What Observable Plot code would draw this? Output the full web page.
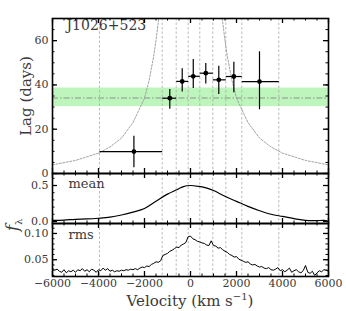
<!DOCTYPE html>
<html>
<head>
<meta charset="utf-8">
<script src="https://cdn.jsdelivr.net/npm/d3@7"></script>
<script src="https://cdn.jsdelivr.net/npm/@observablehq/plot@0.6"></script>
<style>
  body { margin: 0; background: #fff; }
  #wrap { position: relative; width: 346px; height: 311px; font-family: 'DejaVu Serif', serif; color: #3a3a3a; }
  #wrap svg { position: absolute; left: 0; overflow: visible; }
  .lab { position: absolute; white-space: nowrap; font-family: 'DejaVu Serif', serif; color: #3a3a3a; }
</style>
</head>
<body>
<div id="wrap"></div>
<script>
// ---------- data ----------
const xDomain = [-6000, 6000];
const xMajorTicks = [-6000, -4000, -2000, 0, 2000, 4000, 6000];
const binEdges = [-3957, -1230, -622, -100, 404, 970, 1535, 2230, 3839];
const lagVel = [-2460, -900, -360, 120, 665, 1230, 1885, 3000];
const lagValue = [9.9, 34.0, 41.6, 43.9, 45.3, 42.3, 43.8, 41.5];
const lagLow = [2.8, 29.2, 37.0, 38.6, 40.7, 35.9, 36.7, 29.0];
const lagHigh = [17.1, 38.2, 47.5, 51.7, 49.9, 48.7, 50.5, 55.2];
const binLeft = [-3957, -1230, -622, -100, 404, 970, 1535, 2230];
const binRight = [-1230, -622, -100, 404, 970, 1535, 2230, 3839];
const meanLag = 34.1, bandLo = 30.2, bandHi = 38.6;
const lagTicks = [0, 20, 40, 60];
const envVelLeft = [-6000, -5000, -4000, -3500, -3000, -2500, -2000, -1800, -1600, -1500, -1380];
const envVelRight = [1380, 1500, 1600, 1800, 2000, 2500, 3000, 3500, 4000, 5000, 6000];
const envLagLeft = [3.9, 5.9, 9.2, 12.0, 16.0, 23.0, 34.0, 42.0, 53.0, 60.0, 70.0];
const envLagRight = [70.0, 60.0, 53.0, 42.0, 34.0, 23.0, 16.0, 12.0, 9.2, 5.9, 3.9];

const meanVel = [-6000,-5500,-5000,-4500,-4000,-3500,-3000,-2500,-2000,-1500,-1000,-600,-450,-300,-150,0,150,300,500,750,1000,1500,2000,2500,3000,3500,4000,4500,5000,5500,5800,6000];
const meanFlux = [0.015,0.02,0.03,0.035,0.045,0.06,0.09,0.13,0.18,0.28,0.38,0.44,0.465,0.485,0.497,0.5,0.497,0.49,0.48,0.46,0.43,0.35,0.28,0.21,0.15,0.10,0.07,0.04,0.015,0.012,0.015,0.0];
const meanTicks = [0.0, 0.5];

const rmsVel = [-6000,-5900,-5800,-5700,-5600,-5500,-5400,-5300,-5200,-5100,-5000,-4900,-4800,-4700,-4600,-4500,-4400,-4300,-4200,-4100,-4000,-3900,-3800,-3700,-3600,-3500,-3400,-3300,-3200,-3100,-3000,-2900,-2800,-2700,-2600,-2500,-2400,-2300,-2200,-2100,-2000,-1900,-1800,-1700,-1600,-1500,-1400,-1300,-1200,-1100,-1000,-900,-800,-700,-600,-500,-400,-300,-200,-100,0,100,200,300,400,500,600,700,800,900,1000,1100,1200,1300,1400,1500,1600,1700,1800,1900,2000,2100,2200,2300,2400,2500,2600,2700,2800,2900,3000,3100,3200,3300,3400,3500,3600,3700,3800,3900,4000,4100,4200,4300,4400,4500,4600,4700,4800,4900,5000,5100,5200,5300,5400,5500,5600,5700,5800,5900,6000];
const rmsFlux = [0.034,0.030,0.032,0.028,0.026,0.031,0.025,0.029,0.027,0.030,0.026,0.031,0.029,0.033,0.028,0.031,0.027,0.032,0.030,0.026,0.031,0.029,0.034,0.030,0.033,0.028,0.030,0.027,0.029,0.028,0.030,0.029,0.031,0.030,0.032,0.031,0.033,0.031,0.034,0.036,0.035,0.038,0.037,0.041,0.043,0.046,0.045,0.048,0.058,0.060,0.062,0.066,0.068,0.071,0.074,0.073,0.078,0.080,0.083,0.094,0.095,0.090,0.088,0.085,0.084,0.082,0.081,0.078,0.077,0.086,0.077,0.076,0.072,0.073,0.069,0.066,0.064,0.060,0.058,0.055,0.056,0.051,0.049,0.047,0.045,0.046,0.042,0.040,0.041,0.038,0.036,0.037,0.034,0.033,0.035,0.031,0.030,0.032,0.035,0.029,0.031,0.027,0.030,0.034,0.026,0.029,0.031,0.027,0.025,0.029,0.039,0.026,0.024,0.028,0.020,0.025,0.029,0.027,0.031,0.030,0.028];
const rmsTicks = [0.05, 0.10];

// ---------- layout ----------
const W = 346, ML = 52, MR = 18;
const innerW = W - ML - MR;
const font = "DejaVu Serif";
const tickCol = "#3a3a3a";
const fmtInt = d => (d < 0 ? "\u2212" : "") + Math.abs(d);

const lagRows = lagVel.map((v, i) => ({v, lag: lagValue[i], lo: lagLow[i], hi: lagHigh[i], x1: binLeft[i], x2: binRight[i]}));
const meanRows = meanVel.map((v, i) => ({v, f: meanFlux[i]}));
const rmsRows = rmsVel.map((v, i) => ({v, f: rmsFlux[i]}));
const envL = envVelLeft.map((v, i) => ({v, lag: envLagLeft[i]}));
const envR = envVelRight.map((v, i) => ({v, lag: envLagRight[i]}));

function tickMarks(innerH, yMajor, yMinor) {
  const xMinor = d3.range(xDomain[0], xDomain[1] + 1, 500);
  const m = [];
  m.push(Plot.tickX(xMinor, {x: d => d, insetTop: innerH - 2.5, stroke: "black", strokeWidth: 1}));
  m.push(Plot.tickX(xMinor, {x: d => d, insetBottom: innerH - 2.5, stroke: "black", strokeWidth: 1}));
  m.push(Plot.tickX(xMajorTicks, {x: d => d, insetTop: innerH - 5, stroke: "black", strokeWidth: 1.3}));
  m.push(Plot.tickX(xMajorTicks, {x: d => d, insetBottom: innerH - 5, stroke: "black", strokeWidth: 1.3}));
  m.push(Plot.tickY(yMinor, {y: d => d, insetRight: innerW - 2.5, stroke: "black", strokeWidth: 1}));
  m.push(Plot.tickY(yMinor, {y: d => d, insetLeft: innerW - 2.5, stroke: "black", strokeWidth: 1}));
  m.push(Plot.tickY(yMajor, {y: d => d, insetRight: innerW - 5, stroke: "black", strokeWidth: 1.3}));
  m.push(Plot.tickY(yMajor, {y: d => d, insetLeft: innerW - 5, stroke: "black", strokeWidth: 1.3}));
  return m;
}
const vlines = Plot.ruleX(binEdges, {x: d => d, stroke: "#aaa", strokeWidth: 0.8, strokeDasharray: "2.5,2"});

const wrap = document.getElementById("wrap");

// Panel 1: lag
const h1 = 173, mt1 = 18, in1 = h1 - mt1;
const p1 = Plot.plot({
  width: W, height: h1, marginLeft: ML, marginRight: MR, marginTop: mt1, marginBottom: 0,
  style: {fontFamily: font, background: "transparent"},
  x: {domain: xDomain, axis: null},
  y: {domain: [0, 70], axis: null},
  marks: [
    Plot.rect([0], {x1: xDomain[0], x2: xDomain[1], y1: bandLo, y2: bandHi, fill: "#bdf5bd"}),
    Plot.ruleY([meanLag], {stroke: "#888", strokeWidth: 0.9, strokeDasharray: "6,2,1.5,2"}),
    vlines,
    Plot.line(envL, {x: "v", y: "lag", stroke: "#999", strokeWidth: 0.9, strokeDasharray: "2,1.5", clip: true}),
    Plot.line(envR, {x: "v", y: "lag", stroke: "#999", strokeWidth: 0.9, strokeDasharray: "2,1.5", clip: true}),
    Plot.link(lagRows, {x1: "x1", x2: "x2", y1: "lag", y2: "lag", stroke: "black", strokeWidth: 1.2}),
    Plot.link(lagRows, {x1: "v", x2: "v", y1: "lo", y2: "hi", stroke: "black", strokeWidth: 1.2}),
    Plot.dot(lagRows, {x: "v", y: "lag", r: 2.4, fill: "black", stroke: "none"}),
    Plot.text(["J1026+523"], {frameAnchor: "top-left", dx: 14, dy: 2, textAnchor: "start", lineAnchor: "top", fontSize: 14, fill: "#3a3a3a", fontFamily: font}),
    ...tickMarks(in1, lagTicks, d3.range(0, 71, 5)),
    Plot.axisY(lagTicks, {anchor: "left", tickSize: 0, tickPadding: 4, fontSize: 11, fill: tickCol, label: null, fontFamily: font}),
    Plot.frame({stroke: "black", strokeWidth: 1.6})
  ]
});
p1.style.top = "0px";
wrap.appendChild(p1);

// Panel 2: mean
const h2 = 50;
const p2 = Plot.plot({
  width: W, height: h2, marginLeft: ML, marginRight: MR, marginTop: 0, marginBottom: 0,
  style: {fontFamily: font, background: "transparent"},
  x: {domain: xDomain, axis: null},
  y: {domain: [-0.028, 0.667], axis: null},
  marks: [
    vlines,
    Plot.line(meanRows, {x: "v", y: "f", stroke: "black", strokeWidth: 1.2, curve: "catmull-rom"}),
    Plot.text(["mean"], {frameAnchor: "top-left", dx: 16, dy: 5, textAnchor: "start", lineAnchor: "top", fontSize: 13, fill: "#3a3a3a", fontFamily: font}),
    ...tickMarks(h2, meanTicks, d3.range(0, 0.61, 0.1)),
    Plot.axisY(meanTicks, {anchor: "left", tickSize: 0, tickPadding: 4, fontSize: 11, fill: tickCol, tickFormat: d3.format(".1f"), label: null, fontFamily: font}),
    Plot.frame({stroke: "black", strokeWidth: 1.6})
  ]
});
p2.style.top = "173px";
wrap.appendChild(p2);

// Panel 3: rms
const h3 = 88, mb3 = 35, in3 = h3 - mb3;
const p3 = Plot.plot({
  width: W, height: h3, marginLeft: ML, marginRight: MR, marginTop: 0, marginBottom: mb3,
  style: {fontFamily: font, background: "transparent"},
  x: {domain: xDomain, axis: null},
  y: {domain: [0.018, 0.119], axis: null},
  marks: [
    vlines,
    Plot.line(rmsRows, {x: "v", y: "f", stroke: "black", strokeWidth: 1}),
    Plot.text(["rms"], {frameAnchor: "top-left", dx: 16, dy: 6, textAnchor: "start", lineAnchor: "top", fontSize: 13, fill: "#3a3a3a", fontFamily: font}),
    ...tickMarks(in3, rmsTicks, d3.range(0.02, 0.1101, 0.01)),
    Plot.axisY(rmsTicks, {anchor: "left", tickSize: 0, tickPadding: 4, fontSize: 11, fill: tickCol, tickFormat: d3.format(".2f"), label: null, fontFamily: font}),
    Plot.axisX(xMajorTicks, {anchor: "bottom", tickSize: 0, tickPadding: 3, fontSize: 11, fill: tickCol, tickFormat: fmtInt, label: null, fontFamily: font}),
    Plot.frame({stroke: "black", strokeWidth: 1.6})
  ]
});
p3.style.top = "223px";
wrap.appendChild(p3);

// Axis titles (HTML text)
function addLabel(html, x, y, size, rotate) {
  const d = document.createElement("div");
  d.className = "lab";
  d.innerHTML = html;
  d.style.fontSize = size + "px";
  d.style.left = x + "px";
  d.style.top = y + "px";
  d.style.transform = "translate(-50%,-50%)" + (rotate ? " rotate(-90deg)" : "");
  wrap.appendChild(d);
}
addLabel("Velocity (km s<sup style='font-size:10px'>−1</sup>)", 190, 300, 15, false);
addLabel("Lag (days)", 26, 96, 15, true);
addLabel("<i>f</i><sub style='font-size:10px'>λ</sub>", 13, 225, 17, true);
</script>
</body>
</html>
